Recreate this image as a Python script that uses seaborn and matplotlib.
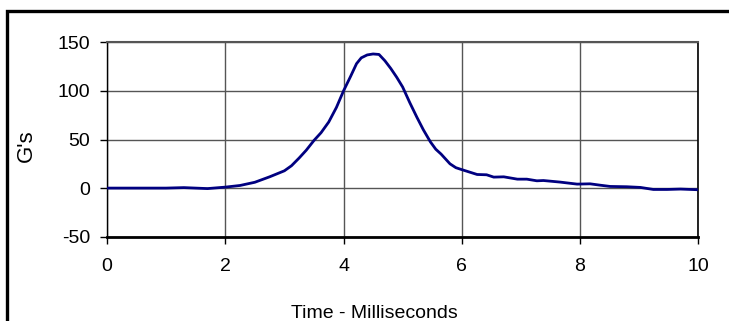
import matplotlib
matplotlib.use("Agg")
import matplotlib.pyplot as plt
from matplotlib.patches import Rectangle
import seaborn as sns
import pandas as pd

time_ms = [0, 0.5, 1.0, 1.3, 1.5, 1.7, 2.0, 2.25, 2.5, 2.75, 3.0, 3.12, 3.25, 3.37,
           3.5, 3.62, 3.75, 3.88, 4.0, 4.12, 4.22, 4.3, 4.4, 4.5, 4.6, 4.7, 4.8,
           4.9, 5.0, 5.12, 5.24, 5.35, 5.47, 5.56, 5.65, 5.8, 5.9,
           6.0, 6.26, 6.42, 6.54, 6.71, 6.94, 7.1, 7.27, 7.38, 7.66, 7.95, 8.17,
           8.34, 8.51, 8.79, 9.02, 9.24, 9.47, 9.70, 10.0]
g_values = [0, 0, 0, 0.5, 0, -0.5, 1.0, 2.7, 6.0, 11.6, 17.8, 23, 31, 39,
            49, 57, 68, 83, 100, 115, 128, 134, 137, 138, 137.5, 131, 123,
            114, 104, 88, 73, 60, 47.5, 40, 35, 25, 21,
            19, 14, 13.7, 11.3, 11.6, 9.2, 9.2, 7.5, 7.8, 6.2, 4.1, 4.4,
            3, 1.7, 1.4, 0.7, -1.4, -1.4, -1.0, -1.7]
x_ticks = [0, 2, 4, 6, 8, 10]
y_ticks = [-50, 0, 50, 100, 150]

sns.set_style("white")
plt.rcParams['font.family'] = ['Liberation Sans', 'DejaVu Sans']

W, H = 729, 321
fig = plt.figure(figsize=(W / 100, H / 100), dpi=100)
ax_l, ax_r, ax_t, ax_b = 107, 698.3, 42.3, 236.7
ax = fig.add_axes([ax_l / W, 1 - ax_b / H, (ax_r - ax_l) / W, (ax_b - ax_t) / H])

df = pd.DataFrame({"t": time_ms, "g": g_values})
sns.lineplot(data=df, x="t", y="g", ax=ax, color="#000080", linewidth=2.0, zorder=3)

ax.set_xlim(0, 10)
ax.set_ylim(-50, 150)
ax.set_xticks(x_ticks)
ax.set_yticks(y_ticks)
ax.set_xticklabels([str(v) for v in x_ticks])
ax.set_yticklabels([str(v) for v in y_ticks])

ax.grid(True, color="#555555", linewidth=1.0)
ax.set_axisbelow(True)
for s in ["left", "bottom", "right"]:
    ax.spines[s].set_color("black")
    ax.spines[s].set_visible(True)
ax.spines["left"].set_linewidth(1.0)
ax.spines["right"].set_linewidth(1.2)
ax.spines["bottom"].set_linewidth(2.0)
ax.spines["top"].set_color("#555555")
ax.spines["top"].set_linewidth(1.5)
ax.spines["top"].set_visible(True)

ax.tick_params(axis="both", which="major", direction="out", length=5, width=1,
               color="black", labelsize=14, labelcolor="black", bottom=True, left=True)
ax.tick_params(axis="x", pad=10)
ax.tick_params(axis="y", pad=7)

ax.set_xlabel("Time - Milliseconds", fontsize=14, color="black")
ax.xaxis.label.set_va("baseline")
ax.xaxis.set_label_coords((374 - ax_l) / (ax_r - ax_l), (ax_b - 318.5) / (ax_b - ax_t))
ax.set_ylabel("G's", fontsize=16, color="black")
ax.yaxis.label.set_va("center")
ax.yaxis.set_label_coords((26 - ax_l) / (ax_r - ax_l), (ax_b - 145.5) / (ax_b - ax_t))

frame = Rectangle((7 / W, -0.5), 1.5, 1 - 10.5 / H + 0.5, transform=fig.transFigure,
                  fill=False, edgecolor="black", linewidth=2.4, clip_on=False)
fig.patches.append(frame)

fig.savefig("out.png", dpi=100)
